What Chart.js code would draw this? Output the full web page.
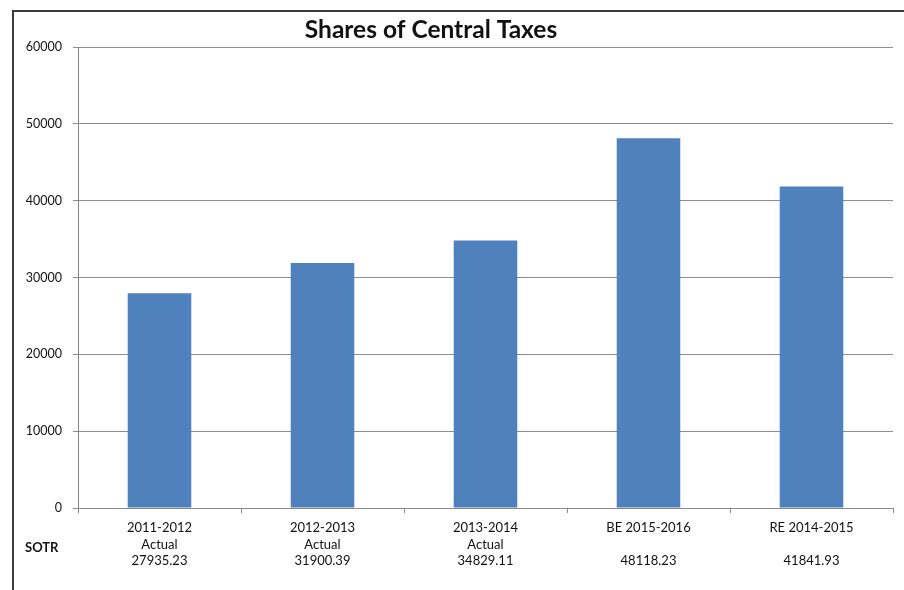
<!DOCTYPE html>
<html>
<head>
<meta charset="utf-8">
<script src="https://cdn.jsdelivr.net/npm/chart.js@4"></script>
<style>
  html, body { margin: 0; padding: 0; background: #fff; }
  #wrap { width: 904px; height: 590px; }
</style>
</head>
<body>
<div id="wrap"><canvas id="barChart" width="904" height="590"></canvas></div>
<script>
const years = ['2011-2012', '2012-2013', '2013-2014', 'BE 2015-2016', 'RE 2014-2015'];
const notes = ['Actual', 'Actual', 'Actual', '', ''];
const sotr = [27935.23, 31900.39, 34829.11, 48118.23, 41841.93];
const yTicks = [0, 10000, 20000, 30000, 40000, 50000, 60000];
const chartTitle = 'Shares of Central Taxes';

const labels = years.map((y, i) => [y, notes[i], sotr[i].toFixed(2)]);

const font = 'Lato';

// frame, title and the "SOTR" row heading
const extras = {
    id: 'extras',
    afterDraw(chart) {
        const c = chart.ctx;
        c.save();
        c.strokeStyle = '#3a3a3a';
        c.lineWidth = 2;
        c.beginPath();
        c.moveTo(13, 600);
        c.lineTo(13, 11);
        c.lineTo(910, 11);
        c.stroke();

        c.fillStyle = '#111';
        c.textBaseline = 'middle';
        c.textAlign = 'center';
        c.font = 'bold 24.5px ' + font;
        c.fillText(chartTitle, 431, 30);

        c.font = 'bold 13px ' + font;
        c.textAlign = 'left';
        c.fillText('SOTR', 25, 548);
        c.restore();
    }
};

new Chart(document.getElementById('barChart'), {
    type: 'bar',
    data: {
        labels: labels,
        datasets: [{
            data: sotr,
            backgroundColor: '#4f81bd',
            borderWidth: 0,
            categoryPercentage: 0.78,
            barPercentage: 0.5,
        }]
    },
    options: {
        responsive: false,
        animation: false,
        layout: { padding: { left: 14, right: 11, top: 47, bottom: 0 } },
        plugins: {
            legend: { display: false },
            tooltip: { enabled: false },
            title: { display: false }
        },
        scales: {
            x: {
                grid: { display: true, drawOnChartArea: false, offset: true, color: '#888', tickLength: 5 },
                border: { color: '#888' },
                ticks: {
                    color: '#111',
                    font: { family: font, size: 13, lineHeight: 1.3 },
                    padding: 6,
                    maxRotation: 0,
                    autoSkip: false
                },
                afterFit(scale) { scale.height = 82; }
            },
            y: {
                min: 0,
                max: 60000,
                afterBuildTicks(scale) { scale.ticks = yTicks.map(v => ({ value: v })); },
                grid: { color: '#8c8c8c', tickLength: 5 },
                border: { color: '#888' },
                ticks: {
                    color: '#111',
                    font: { family: font, size: 12.5 },
                    padding: 11,
                    callback: v => String(v)
                },
                afterFit(scale) { scale.width = 64; }
            }
        }
    },
    plugins: [extras]
});
</script>
</body>
</html>
